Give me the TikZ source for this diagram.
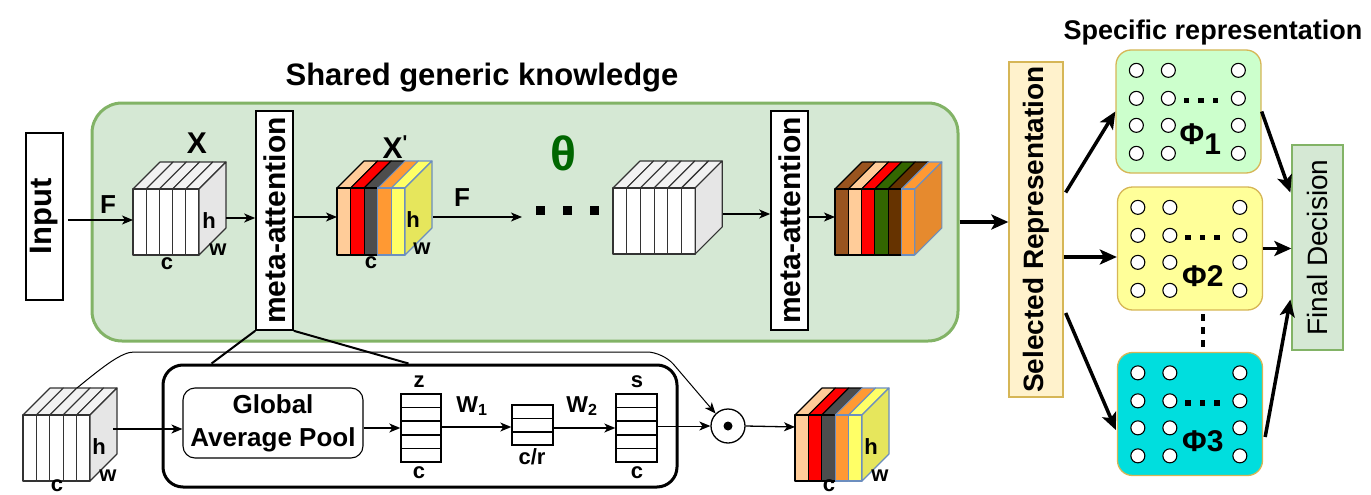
\documentclass[tikz,border=0pt]{standalone}
\usepackage{fontspec}
\setmainfont{Liberation Sans}
\usetikzlibrary{arrows.meta,calc}
\definecolor{gfill}{HTML}{D5E8D4}
\definecolor{gdraw}{HTML}{82B366}
\definecolor{peach}{HTML}{FFCC99}
\definecolor{myred}{HTML}{FF0000}
\definecolor{dgray}{HTML}{4D4D4D}
\definecolor{orng}{HTML}{FF9933}
\definecolor{yelw}{HTML}{FFFF66}
\definecolor{yelwR}{HTML}{E6E65C}
\definecolor{bgray}{HTML}{6C8EBF}
\definecolor{brwn}{HTML}{99541F}
\definecolor{dgreen}{HTML}{336600}
\definecolor{dbrown}{HTML}{663300}
\definecolor{orngR}{HTML}{E68A2E}
\definecolor{cgray}{HTML}{333333}
\definecolor{ctop}{HTML}{F2F2F2}
\definecolor{cright}{HTML}{E6E6E6}
\definecolor{srfill}{HTML}{FFF2CC}
\definecolor{srdraw}{HTML}{D6B656}
\definecolor{phiA}{HTML}{CCFFCC}
\definecolor{phiB}{HTML}{FFFF99}
\definecolor{phiC}{HTML}{00DEDE}
\definecolor{thetac}{HTML}{006600}

% #1 left x, #2 top y, #3 slice width, #4 height, #5 depth, #6 number of slices,
% #7 list front/top/draw, #8 right fill, #9 right draw
\newcommand{\slabcube}[9]{%
  \foreach \sf/\st/\sd [count=\i from 0] in {#7}{%
    \pgfmathsetmacro{\xa}{#1+\i*#3}%
    \filldraw[fill=\st,draw=\sd,cubeline] (\xa,#2) -- ++(#5,-#5) -- ++(#3,0) -- ++(-#5,#5) -- cycle;
    \filldraw[fill=\sf,draw=\sd,cubeline] (\xa,#2) rectangle ++(#3,#4);
  }%
  \pgfmathsetmacro{\xr}{#1+#6*#3}%
  \filldraw[fill=#8,draw=#9,cubeline] (\xr,#2) -- ++(#5,-#5) -- ++(0,#4) -- ++(-#5,#5) -- cycle;
}
% #1 x, #2 y, #3 vertical offset of the c label
\newcommand{\hwclabels}[3]{%
  \node[lbl] at ($(#1,#2)+(76,32)$) {h};
  \node[lbl] at ($(#1,#2)+(85,61)$) {w};
  \node[lbl] at ($(#1,#2)+(34,#3)$) {c};
}

\begin{document}
\begin{tikzpicture}[x=1pt,y=-1pt,
  cubeline/.style={line width=1.1pt, line join=round},
  lbl/.style={font=\fontsize{22}{26}\selectfont\bfseries, inner sep=0pt},
  thinarr/.style={line width=1.3pt, -{Stealth[length=11pt,width=9pt,inset=3pt]}},
  thickarr/.style={line width=3.5pt, -{Stealth[length=17pt,width=15pt,inset=4pt]}},
  vbox/.style={draw, rotate=90, inner sep=0pt, fill=white, line width=1.6pt},
  phibox/.style={draw=srdraw, line width=1.3pt, rounded corners=15pt, minimum width=145pt, minimum height=123pt, inner sep=0pt},
  circ/.style={draw, fill=white, line width=1.1pt},
  vec/.style={draw, line width=1.4pt, minimum width=40pt, inner sep=0pt},
  philbl/.style={font=\fontsize{30}{34}\selectfont\bfseries, inner sep=0pt}
]
\useasboundingbox (0,0) rectangle (1371,495);

% ---------- shared generic knowledge block ----------
\node[draw=gdraw, fill=gfill, line width=3pt, rounded corners=30pt,
      minimum width=866pt, minimum height=238pt, inner sep=0pt] (green) at (525,222) {};
\node[font=\fontsize{31}{37}\selectfont\bfseries] (title) at (482,78) {Shared generic knowledge};

\node[vbox, minimum width=167pt, minimum height=37pt, font=\fontsize{31}{37}\selectfont\bfseries] (input) at (44.5,216.5) {Input};

% cube 1 (X)
\slabcube{133}{189}{13.2}{66}{27}{5}{white/ctop/cgray,white/ctop/cgray,white/ctop/cgray,white/ctop/cgray,white/ctop/cgray}{cright}{cgray}
\hwclabels{133}{189}{75}
\node[font=\fontsize{30}{34}\selectfont\bfseries] (xlbl) at (197,143) {X};
\coordinate (c1L) at (133,220);
\coordinate (c1R) at (226,218);
\node[font=\fontsize{26}{30}\selectfont\bfseries] (f1) at (108,205) {F};

\node[vbox, minimum width=219pt, minimum height=37pt, font=\fontsize{30}{34}\selectfont\bfseries] (meta1) at (274.5,220.5) {meta-attention};

% cube 2 (X')
\slabcube{337}{188}{13.6}{67}{27}{5}{peach/peach/black,myred/myred/black,dgray/dgray/black,orng/orng/bgray,yelw/yelw/bgray}{yelwR}{bgray}
\hwclabels{337}{188}{75}
\node[font=\fontsize{30}{34}\selectfont\bfseries] (xplbl) at (395,147) {X\raisebox{9pt}{\fontsize{20}{20}\selectfont\textquotesingle}};
\coordinate (c2L) at (337,217);
\coordinate (c2R) at (433,217);
\node[font=\fontsize{26}{30}\selectfont\bfseries] (f2) at (462,198) {F};

% dots and theta
\coordinate (dotsL) at (522,217);
\foreach \dx in {540,567,594} \fill (\dx-4.5,205.5) rectangle ++(9,9);
\node[font=\fontsize{48}{52}\selectfont\bfseries, text=thetac] (theta) at (563,153) {θ};

% cube 3
\slabcube{613}{188}{13.7}{66}{27}{6}{white/ctop/cgray,white/ctop/cgray,white/ctop/cgray,white/ctop/cgray,white/ctop/cgray,white/ctop/cgray}{cright}{cgray}
\coordinate (c3R) at (723,214);

\node[vbox, minimum width=219pt, minimum height=37pt, font=\fontsize{30}{34}\selectfont\bfseries] (meta2) at (789.5,220.5) {meta-attention};

% cube 4
\slabcube{835}{189}{13.3}{66}{27}{6}{brwn/brwn/black,peach/peach/black,myred/myred/black,dgreen/dgreen/black,dbrown/dbrown/black,orng/orng/bgray}{orngR}{bgray}
\coordinate (c4L) at (835,217);

\draw[thinarr, shorten <=4pt] (input.south) ++(0,3.5) -- (c1L);
\draw[thinarr] (c1R) -- (c1R -| meta1.north);
\draw[thinarr] (meta1.south |- c2L) -- (c2L);
\draw[thinarr] (c2R) -- (dotsL);
\draw[thinarr] (c3R) -- (c3R -| meta2.north);
\draw[thinarr] (meta2.south |- c4L) -- (c4L);

% ---------- right part ----------
\node[vbox, draw=srdraw, fill=srfill, line width=1.3pt, minimum width=335pt, minimum height=54pt, font=\fontsize{28}{32}\selectfont\bfseries] (sr) at (1036,229.5) {Selected Representation};
\node[vbox, draw=gdraw, fill=gfill, line width=1.3pt, minimum width=205pt, minimum height=51pt, font=\fontsize{28}{32}\selectfont] (fd) at (1317.5,247.5) {Final Decision};
\node[font=\fontsize{27}{31}\selectfont\bfseries] (spec) at (1213,33) {Specific representation};

\node[phibox, fill=phiA] (phi1) at (1188.5,111.5) {};
\node[phibox, fill=phiB] (phi2) at (1190,248.5) {};
\node[phibox, fill=phiC] (phi3) at (1190,414) {};
\foreach \b in {phi1,phi2,phi3}{
  \foreach \cx in {21,53,123}{
    \foreach \cy in {21,49,76,104}{
      \draw[circ] ($(\b.north west)+(\cx,\cy)$) circle (7);
    }
  }
  \foreach \dx in {71,85.5,100}{
    \fill ($(\b.north west)+(\dx,51)+(-2.7,-2.7)$) rectangle ++(5.4,5.4);
  }
}
\node[philbl] (phi1l) at ($(phi1.north west)+(85,90)$) {Φ\raisebox{-10pt}{1}};
\node[philbl] (phi2l) at ($(phi2.north west)+(86,90)$) {Φ2};
\node[philbl] (phi3l) at ($(phi3.north west)+(86,89)$) {Φ3};
\foreach \vy in {317,330,343} \fill (1201,\vy-3.5) rectangle ++(4,7);

\coordinate (sr1) at ($(sr.south)+(2,-37)$);
\coordinate (sr2) at ($(sr.south)+(0,27.5)$);
\coordinate (sr3) at ($(sr.south)+(2,83.5)$);
\coordinate (p3in) at ($(phi3.west)+(-1,16)$);
\coordinate (fd1) at ($(fd.north)+(-1,-55)$);
\coordinate (fd3) at ($(fd.north)+(-1,52)$);
\coordinate (p3out) at ($(phi3.east)+(2,23)$);
\draw[thickarr] (green.east) -- (green.east -| sr.north);
\draw[thickarr] (sr1) -- (phi1.west);
\draw[thickarr] (sr2) -- (sr2 -| phi2.west);
\draw[thickarr] (sr3) -- (p3in);
\draw[thickarr] (phi1.east) -- (fd1);
\draw[thickarr] (phi2.east) -- (phi2.east -| fd.north);
\draw[thickarr] (p3out) -- (fd3);

% ---------- bottom SE block ----------
\node[draw, line width=3pt, rounded corners=20pt, minimum width=514pt, minimum height=122pt, inner sep=0pt] (se) at (420,426) {};
\coordinate (seA) at ($(se.north west)+(50,0)$);
\coordinate (seB) at ($(se.north west)+(247,0)$);
\draw[line width=2pt] (meta1.north west) -- (seA);
\draw[line width=2pt] (meta1.south west) -- (seB);

\slabcube{23}{415}{13.4}{66}{27}{5}{white/ctop/cgray,white/ctop/cgray,white/ctop/cgray,white/ctop/cgray,white/ctop/cgray}{cright}{cgray}
\hwclabels{23}{415}{71}
\coordinate (c5R) at (113,429);
\coordinate (c5top) at (77,388);

\node[draw, line width=1.1pt, rounded corners=12pt, minimum width=180pt, minimum height=70pt, align=center,
      font=\fontsize{26}{33}\selectfont\bfseries] (gap) at (273,423) {Global\\Average Pool};

\node[vec, minimum height=68pt] (z) at (421,428) {};
\foreach \k in {1,...,4} \draw[line width=1.2pt] ($(z.north west)!\k/5!(z.south west)$) -- ($(z.north east)!\k/5!(z.south east)$);
\node[vec, minimum width=41pt, minimum height=40pt] (cr) at (532.5,425) {};
\foreach \k in {1,2} \draw[line width=1.2pt] ($(cr.north west)!\k/3!(cr.south west)$) -- ($(cr.north east)!\k/3!(cr.south east)$);
\node[vec, minimum width=41pt, minimum height=68pt] (s) at (636.5,428) {};
\foreach \k in {1,...,4} \draw[line width=1.2pt] ($(s.north west)!\k/5!(s.south west)$) -- ($(s.north east)!\k/5!(s.south east)$);

\node[lbl] (zl) at (419,382) {z};
\node[lbl] (zc) at (419,473) {c};
\node[lbl] (sl) at (637,382) {s};
\node[lbl] (sc) at (637,473) {c};
\node[lbl] (crl) at (532,457) {c/r};
\node[lbl, font=\fontsize{23}{26}\selectfont\bfseries] (w1) at (472,406) {W\textsubscript{1}};
\node[lbl, font=\fontsize{23}{26}\selectfont\bfseries] (w2) at (582,406) {W\textsubscript{2}};

\node[draw, circle, line width=1.3pt, minimum size=34pt, inner sep=0pt] (odot) at (728,426) {};
\fill (odot.center) circle (4.5);

\slabcube{795}{415}{13.4}{66}{27}{5}{peach/peach/black,myred/myred/black,dgray/dgray/black,orng/orng/bgray,yelw/yelw/bgray}{yelwR}{bgray}
\hwclabels{795}{415}{71}
\coordinate (c6L) at (795,427);

\draw[thinarr] (c5R) -- (c5R -| gap.west);
\draw[thinarr] (gap.east |- z.west) -- (z.west);
\draw[thinarr] (z.east |- 0,427) -- (cr.west |- 0,427);
\draw[thinarr] (cr.east |- 0,428) -- (s.west |- 0,428);
\draw[thinarr, line width=1pt] (s.east |- odot.west) -- (odot.west);
\draw[thinarr] (odot.east) -- (c6L);
\draw[thinarr, line width=1pt, rounded corners=16pt] (c5top) .. controls (105,365) and (122,352) .. (150,352) -- (663,352) -- (odot.north west);
\end{tikzpicture}
\end{document}
